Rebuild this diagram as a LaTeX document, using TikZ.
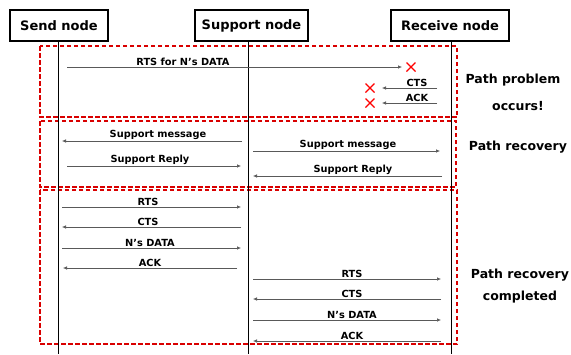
\documentclass[tikz,border=0pt]{standalone}
\usepackage{fontspec}
\setmainfont{DejaVu Sans}
\usetikzlibrary{arrows.meta}
\newcommand\msgline[6]{%
  \coordinate (#1a) at (#3,#2);
  \coordinate (#1b) at (#4,#2);
  \draw[msg] (#1a) -- (#1b);
  \node[lbl] (#1l) at (#5,#2) {#6};}
\begin{document}
\begin{tikzpicture}[x=1pt,y=-1pt,
  hdr/.style={draw=black, line width=1.3pt, font=\bfseries\fontsize{13}{15}\selectfont, minimum height=31pt, inner sep=0pt},
  life/.style={draw=black, line width=0.9pt},
  zone/.style={draw=red!85!black, line width=1.5pt, dash pattern=on 4.5pt off 2.5pt},
  msg/.style={draw=gray!70!black, line width=0.6pt, -{Latex[length=4pt,width=3.5pt]}},
  lbl/.style={font=\bfseries\fontsize{9.8}{11}\selectfont, inner sep=0.8pt, anchor=south},
  note/.style={font=\bfseries\fontsize{12.5}{14}\selectfont},
  xmark/.style={draw=red, line width=1.4pt}]
\useasboundingbox (0,0) rectangle (571,354);
% header boxes
\node[hdr, minimum width=98pt] (send) at (59,25.5) {Send node};
\node[hdr, minimum width=113pt] (supp) at (251.5,25.5) {Support node};
\node[hdr, minimum width=118pt] (recv) at (450,25.5) {Receive node};
% zones
\draw[zone] (40,46) rectangle (457,117);
\draw[zone] (40,121) rectangle (456,187);
\draw[zone] (40,190) rectangle (457,344);
% lifelines
\coordinate (sendE) at (58,354);
\coordinate (suppE) at (248,354);
\coordinate (recvE) at (451,354);
\draw[life] (send.south -| sendE) -- (sendE);
\draw[life] (supp.south -| suppE) -- (suppE);
\draw[life] (recv.south -| recvE) -- (recvE);
% path problem
\msgline{m1}{67}{67}{402}{183}{RTS for N’s DATA}
\msgline{m2}{88}{437}{382}{417}{CTS}
\msgline{m3}{103}{437}{382}{417}{ACK}
\foreach \cx/\cy [count=\i] in {411/67,370/88,370/103}{
  \draw[xmark] (\cx-4.5,\cy-4.5) -- (\cx+4.5,\cy+4.5) (\cx-4.5,\cy+4.5) -- (\cx+4.5,\cy-4.5);
}
% path recovery
\msgline{m4}{141}{242}{62}{158}{Support message}
\msgline{m5}{166}{67}{241}{150}{Support Reply}
\msgline{m6}{151}{253}{440}{348}{Support message}
\msgline{m7}{176}{442}{253}{353}{Support Reply}
% completed
\msgline{m8}{207}{62}{241}{148}{RTS}
\msgline{m9}{227}{241}{62}{148}{CTS}
\msgline{m10}{248}{62}{241}{150}{N’s DATA}
\msgline{m11}{268}{237}{63}{150}{ACK}
\msgline{m12}{279}{253}{441}{352}{RTS}
\msgline{m13}{299}{441}{253}{352}{CTS}
\msgline{m14}{320}{253}{441}{352}{N’s DATA}
\msgline{m15}{341}{441}{253}{352}{ACK}
% notes
\node[note] (n1) at (513,80) {Path problem};
\node[note] (n2) at (518,106) {occurs!};
\node[note] (n3) at (518,147) {Path recovery};
\node[note] (n4) at (520,275) {Path recovery};
\node[note] (n5) at (520,297) {completed};
\end{tikzpicture}
\end{document}
